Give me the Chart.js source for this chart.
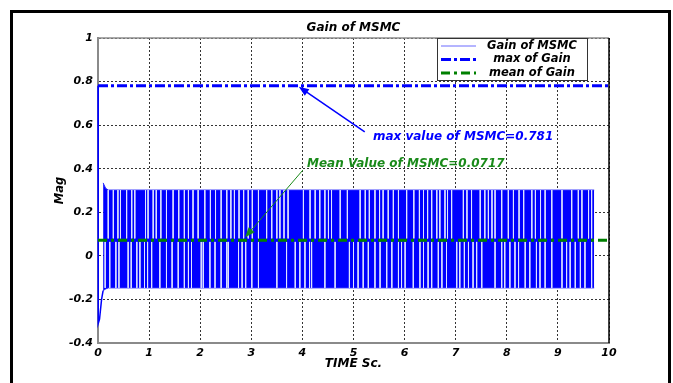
<!DOCTYPE html>
<html>
<head>
<meta charset="utf-8">
<script src="https://cdn.jsdelivr.net/npm/chart.js@4.4.0/dist/chart.umd.min.js"></script>
<style>
  html, body { margin: 0; padding: 0; background: #fff; }
  #frame { position: absolute; left: 10px; top: 10px; width: 655px; height: 400px; border: 3px solid #000; }
  #wrap { position: absolute; left: 0; top: 0; width: 673px; height: 383px; }
</style>
</head>
<body>
<div id="frame"></div>
<div id="wrap"><canvas id="chart"></canvas></div>
<script>
// axis ticks
const xTicks = [0, 1, 2, 3, 4, 5, 6, 7, 8, 9, 10];
const yTicks = [-0.4, -0.2, 0, 0.2, 0.4, 0.6, 0.8, 1];

const maxGain = 0.781;
const meanGain = 0.0717;

// start-up transient of the gain
const startTime = [0, 0.005, 0.03, 0.07, 0.1];
const startGain = [0.781, -0.31, -0.29, -0.2, -0.16];

// chattering band (envelope of the switching gain)
const bandTime = [0.1, 0.15, 0.2, 9.71];
const bandHigh = [0.335, 0.31, 0.302, 0.302];
const bandLow = [-0.16, -0.152, -0.147, -0.147];

// light gaps seen inside the band (upper half / lower half)
const gapUpperLevels = [0.302, 0.08];
const gapLowerLevels = [0.064, -0.147];
const gapsUpper = [0.20, 0.30, 0.39, 0.44, 0.56, 0.66, 0.72, 0.93, 0.98, 1.08, 1.14, 1.23, 1.34, 1.47, 1.58, 1.69,
  1.77, 1.86, 1.96, 2.09, 2.20, 2.30, 2.41, 2.52, 2.60, 2.67, 2.76, 2.85, 2.94, 3.02, 3.14,
  3.30, 3.40, 3.50, 3.56, 3.64, 3.72, 4.02, 4.15, 4.25, 4.34, 4.44, 4.51, 4.57, 4.74, 4.88, 5.13,
  5.23, 5.31, 5.42, 5.51, 5.58, 5.68, 5.78, 5.88, 6.04, 6.18, 6.29, 6.37,
  6.45, 6.53, 6.63, 6.69, 6.79, 6.84, 6.92, 7.15, 7.22, 7.31, 7.48, 7.57, 7.64, 7.71, 7.77, 7.90,
  8.03, 8.13, 8.24, 8.33, 8.49, 8.56, 8.66, 8.75, 8.88, 9.08, 9.27, 9.40, 9.47, 9.60, 9.66];
const gapsLower = [0.14, 0.23, 0.35, 0.41, 0.59, 0.65, 0.76, 0.82, 0.91, 0.97, 1.05, 1.21, 1.34, 1.45, 1.57, 1.69,
  1.77, 1.83, 2.02, 2.06, 2.19, 2.29, 2.41, 2.52, 2.55, 2.75, 2.82, 2.89, 3.01, 3.14,
  3.50, 3.69, 3.86, 3.95, 4.05, 4.14, 4.18, 4.44, 4.64, 4.92, 5.00, 5.09, 5.19, 5.29, 5.42, 5.52,
  5.65, 5.75, 5.88, 5.94, 6.01, 6.17, 6.30, 6.37,
  6.46, 6.53, 6.66, 6.73, 6.82, 7.02, 7.08, 7.17, 7.25, 7.34, 7.41, 7.51, 7.77, 7.90, 7.96, 8.06,
  8.16, 8.23, 8.36, 8.45, 8.58, 8.65, 8.75, 8.88, 9.08, 9.17, 9.24, 9.34, 9.44, 9.53, 9.66];

// annotations: text position and arrow (tail -> tip), in data units
const notes = [
  { text: 'max value of MSMC=0.781', x: 5.38, y: 0.545, fromX: 5.22, fromY: 0.569, toX: 3.93, toY: 0.776, color: '#0000ff', lw: 1.5 },
  { text: 'Mean Value of MSMC=0.0717', x: 4.09, y: 0.42, fromX: 4.01, fromY: 0.394, toX: 2.88, toY: 0.085, color: '#1a8a1a', lw: 1 }
];

const legendItems = [
  { label: 'Gain of MSMC', color: '#6a6aff', width: 1, dash: [] },
  { label: 'max of Gain', color: '#0000ff', width: 3, dash: [10, 3, 3, 3] },
  { label: 'mean of Gain', color: '#008000', width: 3, dash: [9, 4, 3, 4] }
];

const FONT = '"DejaVu Sans", Verdana, sans-serif';
const f = size => ({ family: FONT, size, style: 'italic', weight: 'bold' });
const pts = (xs, ys) => xs.map((t, i) => ({ x: t, y: ys[i] }));
const gapPts = (ts, lv) => ts.flatMap(t => [{ x: t, y: lv[0] }, { x: t, y: lv[1] }, { x: t, y: null }]);
const hLine = v => [{ x: xTicks[0], y: v }, { x: xTicks[xTicks.length - 1], y: v }];

const decor = {
  id: 'decor',
  afterDatasetsDraw(chart) {
    const { ctx, chartArea: a, scales: { x, y } } = chart;
    ctx.save();
    // top and right edges of the axes box
    ctx.lineWidth = 1.5;
    ctx.strokeStyle = '#8c8c8c';
    ctx.beginPath(); ctx.moveTo(a.left, a.top); ctx.lineTo(a.right, a.top); ctx.stroke();
    ctx.strokeStyle = '#000';
    ctx.beginPath(); ctx.moveTo(a.right, a.top); ctx.lineTo(a.right, a.bottom); ctx.stroke();

    // title
    ctx.fillStyle = '#000';
    ctx.font = 'italic bold 12px ' + FONT;
    ctx.textAlign = 'center'; ctx.textBaseline = 'middle';
    ctx.fillText('Gain of MSMC', (a.left + a.right) / 2, a.top - 10);

    // arrows + notes
    notes.forEach(n => {
      const x0 = x.getPixelForValue(n.fromX), y0 = y.getPixelForValue(n.fromY);
      const x1 = x.getPixelForValue(n.toX), y1 = y.getPixelForValue(n.toY);
      const ang = Math.atan2(y1 - y0, x1 - x0);
      ctx.strokeStyle = n.color; ctx.fillStyle = n.color; ctx.lineWidth = n.lw;
      ctx.beginPath(); ctx.moveTo(x0, y0); ctx.lineTo(x1 - 6 * Math.cos(ang), y1 - 6 * Math.sin(ang)); ctx.stroke();
      ctx.beginPath();
      ctx.moveTo(x1, y1);
      ctx.lineTo(x1 - 10 * Math.cos(ang) + 4 * Math.sin(ang), y1 - 10 * Math.sin(ang) - 4 * Math.cos(ang));
      ctx.lineTo(x1 - 10 * Math.cos(ang) - 4 * Math.sin(ang), y1 - 10 * Math.sin(ang) + 4 * Math.cos(ang));
      ctx.closePath(); ctx.fill();
      ctx.font = 'italic bold 12px ' + FONT;
      ctx.textAlign = 'left'; ctx.textBaseline = 'middle';
      ctx.fillText(n.text, x.getPixelForValue(n.x), y.getPixelForValue(n.y));
    });

    // legend box
    const lx = a.right - 172, ly = a.top, lw = 150, lh = 42;
    ctx.fillStyle = '#fff';
    ctx.fillRect(lx, ly, lw, lh);
    ctx.strokeStyle = '#333'; ctx.lineWidth = 1;
    ctx.strokeRect(lx + 0.5, ly + 0.5, lw, lh);
    legendItems.forEach((it, i) => {
      const ry = ly + 8 + i * 13.5;
      ctx.strokeStyle = it.color; ctx.lineWidth = it.width; ctx.setLineDash(it.dash);
      ctx.beginPath(); ctx.moveTo(lx + 4, ry); ctx.lineTo(lx + 39, ry); ctx.stroke();
      ctx.setLineDash([]);
      ctx.fillStyle = '#000';
      ctx.font = 'italic bold 11.5px ' + FONT;
      ctx.textAlign = 'center'; ctx.textBaseline = 'middle';
      ctx.fillText(it.label, lx + 95, ry);
    });
    ctx.restore();
  }
};

new Chart(document.getElementById('chart'), {
  type: 'scatter',
  data: {
    datasets: [
      { label: 'max of Gain', data: hLine(maxGain), showLine: true, borderColor: '#0000ff', borderWidth: 3, borderDash: [10, 3, 3, 3], pointRadius: 0 },
      { label: 'mean of Gain', data: hLine(meanGain), showLine: true, borderColor: '#008000', borderWidth: 3, borderDash: [9, 4, 3, 4], pointRadius: 0 },
      { label: 'start', data: pts(startTime, startGain), showLine: true, borderColor: '#0000ff', borderWidth: 1.5, pointRadius: 0, clip: 4 },
      { label: 'gaps upper', data: gapPts(gapsUpper, gapUpperLevels), showLine: true, spanGaps: false, borderColor: 'rgba(222,228,255,0.95)', borderWidth: 1, pointRadius: 0 },
      { label: 'gaps lower', data: gapPts(gapsLower, gapLowerLevels), showLine: true, spanGaps: false, borderColor: 'rgba(222,228,255,0.95)', borderWidth: 1, pointRadius: 0 },
      { label: 'Gain of MSMC', data: pts(bandTime, bandHigh), showLine: true, borderColor: '#2a2aff', borderWidth: 1, pointRadius: 0, fill: false },
      { label: 'Gain low', data: pts(bandTime, bandLow), showLine: true, borderColor: '#2a2aff', borderWidth: 1, pointRadius: 0, fill: '-1', backgroundColor: '#0000ff' }
    ]
  },
  options: {
    responsive: true,
    maintainAspectRatio: false,
    animation: false,
    layout: { padding: { left: 0, right: 64, top: 38, bottom: 0 } },
    scales: {
      x: {
        type: 'linear', min: 0, max: 10,
        afterBuildTicks: s => { s.ticks = xTicks.map(v => ({ value: v })); },
        afterFit: s => { s.height = 40; },
        grid: { color: '#333', drawTicks: false },
        border: { color: '#8a8a8a', width: 2, dash: [2, 2] },
        ticks: { color: '#000', padding: 4, font: f(11) },
        title: { display: true, text: 'TIME Sc.', color: '#000', padding: { top: 0, bottom: 12 }, font: f(12) }
      },
      y: {
        min: -0.4, max: 1,
        afterBuildTicks: s => { s.ticks = yTicks.map(v => ({ value: v })); },
        afterFit: s => { s.width = 98; },
        grid: { color: '#333', drawTicks: false },
        border: { color: '#8a8a8a', width: 2, dash: [2, 2] },
        ticks: { color: '#000', padding: 5, callback: v => +v.toFixed(1), font: f(11) },
        title: { display: true, text: 'Mag', color: '#000', padding: { top: 53, bottom: 0 }, font: f(11.5) }
      }
    },
    plugins: {
      legend: { display: false },
      tooltip: { enabled: false },
      title: { display: false }
    }
  },
  plugins: [decor]
});
</script>
</body>
</html>
